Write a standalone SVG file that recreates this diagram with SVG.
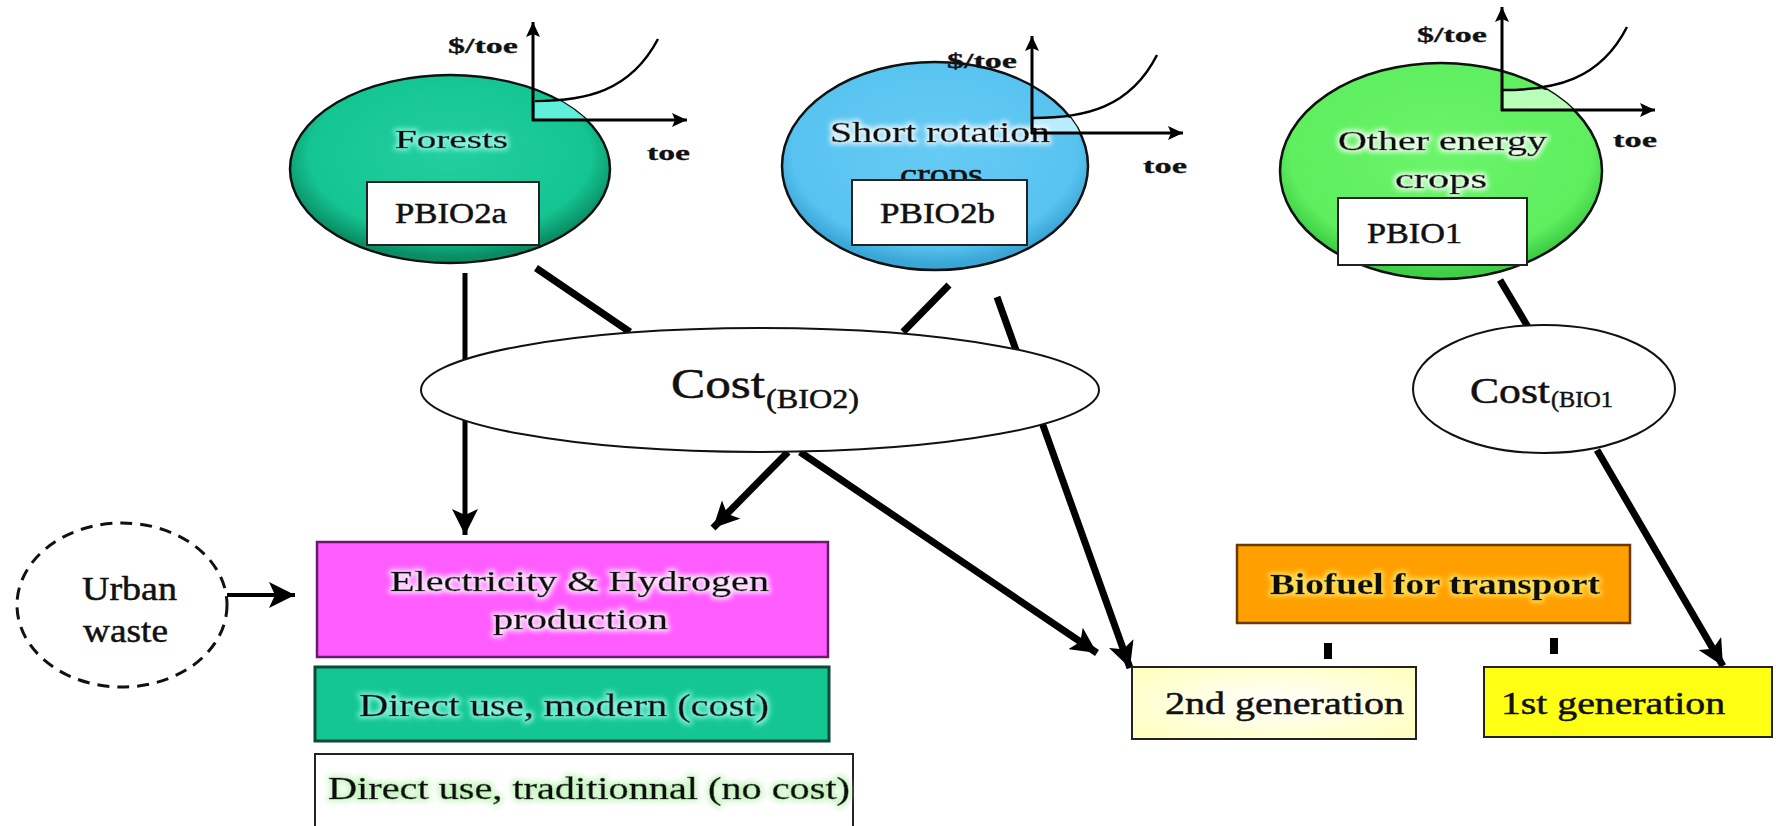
<svg xmlns="http://www.w3.org/2000/svg" width="1776" height="826" viewBox="0 0 1776 826">
<style>
.t{font-family:"Liberation Serif","Times New Roman",serif;fill:#111;stroke:#111;stroke-width:0.5;}
.b{font-weight:bold;stroke-width:0.3;}
.ax{stroke:#000;stroke-width:3;fill:none;}
.cv{stroke:#000;stroke-width:2.5;fill:none;}
.con{stroke:#000;stroke-width:7;fill:none;}
.box{stroke:#222;stroke-width:2;}
.el{stroke:#111;stroke-width:2.5;}
</style>
<defs>
<marker id="ah" markerUnits="userSpaceOnUse" markerWidth="28" markerHeight="26" refX="26" refY="13" orient="auto"><path d="M0,0 L26,13 L0,26 L6,13 z" fill="#000"/></marker>
<marker id="axh" markerUnits="userSpaceOnUse" markerWidth="16" markerHeight="14" refX="15" refY="7" orient="auto"><path d="M0,0 L15,7 L0,14 L3,7 z" fill="#000"/></marker>
<radialGradient id="gF" cx="50%" cy="42%" r="55%"><stop offset="0" stop-color="#22cf9e"/><stop offset="0.8" stop-color="#14c592"/><stop offset="1" stop-color="#0a8c64"/></radialGradient>
<radialGradient id="gS" cx="50%" cy="42%" r="55%"><stop offset="0" stop-color="#66cbf4"/><stop offset="0.85" stop-color="#58c3f0"/><stop offset="1" stop-color="#3aa6d6"/></radialGradient>
<radialGradient id="gO" cx="50%" cy="42%" r="55%"><stop offset="0" stop-color="#6af56a"/><stop offset="0.85" stop-color="#5eee5e"/><stop offset="1" stop-color="#3fcf45"/></radialGradient>
<radialGradient id="g2" cx="50%" cy="50%" r="60%"><stop offset="0" stop-color="#ffffff"/><stop offset="1" stop-color="#ffffc4"/></radialGradient>
<filter id="glowW" x="-10%" y="-40%" width="120%" height="180%"><feMorphology in="SourceAlpha" operator="dilate" radius="1.5" result="d"/><feGaussianBlur in="d" stdDeviation="2.5" result="bl"/><feFlood flood-color="#ffffff" flood-opacity="0.85"/><feComposite in2="bl" operator="in" result="g"/><feMerge><feMergeNode in="g"/><feMergeNode in="SourceGraphic"/></feMerge></filter>
<filter id="glowC" x="-10%" y="-40%" width="120%" height="180%"><feMorphology in="SourceAlpha" operator="dilate" radius="1.5" result="d"/><feGaussianBlur in="d" stdDeviation="2.5" result="bl"/><feFlood flood-color="#8ff8e6" flood-opacity="0.9"/><feComposite in2="bl" operator="in" result="g"/><feMerge><feMergeNode in="g"/><feMergeNode in="SourceGraphic"/></feMerge></filter>
<filter id="glowY" x="-10%" y="-40%" width="120%" height="180%"><feMorphology in="SourceAlpha" operator="dilate" radius="1.5" result="d"/><feGaussianBlur in="d" stdDeviation="2.5" result="bl"/><feFlood flood-color="#ffe860" flood-opacity="0.9"/><feComposite in2="bl" operator="in" result="g"/><feMerge><feMergeNode in="g"/><feMergeNode in="SourceGraphic"/></feMerge></filter>
<filter id="glowG" x="-10%" y="-40%" width="120%" height="180%"><feMorphology in="SourceAlpha" operator="dilate" radius="2" result="d"/><feGaussianBlur in="d" stdDeviation="3" result="bl"/><feFlood flood-color="#b8f0b0" flood-opacity="0.8"/><feComposite in2="bl" operator="in" result="g"/><feMerge><feMergeNode in="g"/><feMergeNode in="SourceGraphic"/></feMerge></filter>
<clipPath id="cF"><ellipse cx="450" cy="169" rx="160" ry="94"/></clipPath>
<clipPath id="cS"><ellipse cx="935" cy="166" rx="153" ry="104"/></clipPath>
<clipPath id="cO"><ellipse cx="1441" cy="171" rx="161" ry="108"/></clipPath>
</defs>
<rect width="1776" height="826" fill="#fff"/>

<g id="connectors">
<line class="con" style="stroke-width:5" x1="465" y1="273" x2="465" y2="535" marker-end="url(#ah)"/>
<line class="con" x1="536" y1="268" x2="630" y2="332"/>
<line class="con" x1="949" y1="285" x2="903" y2="332"/>
<line class="con" x1="997" y1="297" x2="1130" y2="668" marker-end="url(#ah)"/>
<line class="con" x1="788" y1="452" x2="713" y2="528" marker-end="url(#ah)"/>
<line class="con" x1="800" y1="452" x2="1097" y2="653" marker-end="url(#ah)"/>
<line class="con" x1="1500" y1="280" x2="1528" y2="327"/>
<line class="con" x1="1597" y1="450" x2="1723" y2="666" marker-end="url(#ah)"/>
<line class="con" style="stroke-width:4" x1="227" y1="595" x2="295" y2="595" marker-end="url(#ah)"/>
<rect x="1324" y="643" width="8" height="16" fill="#000"/>
<rect x="1550" y="638" width="8" height="16" fill="#000"/>
</g>

<g id="forests">
<ellipse class="el" cx="450" cy="169" rx="160" ry="94" fill="url(#gF)"/>
<rect x="535" y="99" width="70" height="21" fill="#5ff0dc" clip-path="url(#cF)"/>
<text class="t" x="395" y="148" font-size="26" textLength="113" lengthAdjust="spacingAndGlyphs" fill="#0b2b25" filter="url(#glowC)">Forests</text>
<rect class="box" x="367" y="182" width="172" height="63" fill="#fff"/>
<text class="t" x="395" y="223" font-size="30" textLength="112" lengthAdjust="spacingAndGlyphs">PBIO2a</text>
<line class="ax" x1="533" y1="121" x2="533" y2="22" marker-end="url(#axh)"/>
<line class="ax" x1="532" y1="120" x2="687" y2="120" marker-end="url(#axh)"/>
<path class="cv" d="M535,101 C585,101 630,92 658,39"/>
<text class="t b" x="448" y="53" font-size="21" textLength="70" lengthAdjust="spacingAndGlyphs">$/toe</text>
<text class="t b" x="647" y="160" font-size="21" textLength="43" lengthAdjust="spacingAndGlyphs">toe</text>
</g>

<g id="short-rotation">
<ellipse class="el" cx="935" cy="166" rx="153" ry="104" fill="url(#gS)"/>
<rect x="1034" y="118" width="60" height="15" fill="#b8ecff" clip-path="url(#cS)"/>
<text class="t" x="830" y="142" font-size="29" textLength="220" lengthAdjust="spacingAndGlyphs" filter="url(#glowW)">Short rotation</text>
<text class="t" x="900" y="184" font-size="29" textLength="83" lengthAdjust="spacingAndGlyphs">crops</text>
<rect class="box" x="852" y="180" width="175" height="65" fill="#fff"/>
<text class="t" x="880" y="223" font-size="30" textLength="115" lengthAdjust="spacingAndGlyphs">PBIO2b</text>
<line class="ax" x1="1032" y1="134" x2="1032" y2="36" marker-end="url(#axh)"/>
<line class="ax" x1="1031" y1="133" x2="1183" y2="133" marker-end="url(#axh)"/>
<path class="cv" d="M1033,118 C1085,118 1130,108 1157,55"/>
<text class="t b" x="947" y="68" font-size="21" textLength="70" lengthAdjust="spacingAndGlyphs">$/toe</text>
<text class="t b" x="1143" y="173" font-size="21" textLength="44" lengthAdjust="spacingAndGlyphs">toe</text>
</g>

<g id="other-energy">
<ellipse class="el" cx="1441" cy="171" rx="161" ry="108" fill="url(#gO)"/>
<rect x="1504" y="90" width="70" height="20" fill="#b8ffb8" clip-path="url(#cO)"/>
<text class="t" x="1338" y="150" font-size="28" textLength="209" lengthAdjust="spacingAndGlyphs" filter="url(#glowW)">Other energy</text>
<text class="t" x="1395" y="188" font-size="28" textLength="92" lengthAdjust="spacingAndGlyphs" filter="url(#glowW)">crops</text>
<rect class="box" x="1338" y="198" width="189" height="67" fill="#fff"/>
<text class="t" x="1367" y="243" font-size="30" textLength="95" lengthAdjust="spacingAndGlyphs">PBIO1</text>
<line class="ax" x1="1502" y1="111" x2="1502" y2="7" marker-end="url(#axh)"/>
<line class="ax" x1="1501" y1="110" x2="1655" y2="110" marker-end="url(#axh)"/>
<path class="cv" d="M1503,90 C1555,90 1600,80 1627,27"/>
<text class="t b" x="1417" y="42" font-size="21" textLength="70" lengthAdjust="spacingAndGlyphs">$/toe</text>
<text class="t b" x="1613" y="147" font-size="21" textLength="44" lengthAdjust="spacingAndGlyphs">toe</text>
</g>

<g id="cost-bio2">
<ellipse class="el" cx="760" cy="390" rx="339" ry="62" fill="#fff" style="stroke-width:2"/>
<text class="t"><tspan x="671" y="398" font-size="42" textLength="94" lengthAdjust="spacingAndGlyphs">Cost</tspan><tspan x="766" y="408" font-size="28" textLength="93" lengthAdjust="spacingAndGlyphs">(BIO2)</tspan></text>
</g>

<g id="cost-bio1">
<ellipse class="el" cx="1544" cy="389" rx="131" ry="64" fill="#fff" style="stroke-width:2"/>
<text class="t"><tspan x="1470" y="403" font-size="35" textLength="80" lengthAdjust="spacingAndGlyphs">Cost</tspan><tspan x="1551" y="407" font-size="24" textLength="62" lengthAdjust="spacingAndGlyphs">(BIO1</tspan></text>
</g>

<g id="urban-waste">
<ellipse cx="122" cy="605" rx="105" ry="82" fill="#fff" stroke="#111" stroke-width="3" stroke-dasharray="12 8"/>
<text class="t" x="82" y="600" font-size="34" textLength="95" lengthAdjust="spacingAndGlyphs" fill="#0d1a30">Urban</text>
<text class="t" x="83" y="642" font-size="34" textLength="85" lengthAdjust="spacingAndGlyphs" fill="#0d1a30">waste</text>
</g>

<g id="electricity-hydrogen">
<rect x="317" y="542" width="511" height="115" fill="#ff5cff" stroke="#6a1a6a" stroke-width="2.5"/>
<text class="t" x="390" y="591" font-size="30" textLength="379" lengthAdjust="spacingAndGlyphs" fill="#2a0a2a" filter="url(#glowW)">Electricity &amp; Hydrogen</text>
<text class="t" x="493" y="629" font-size="30" textLength="175" lengthAdjust="spacingAndGlyphs" fill="#2a0a2a" filter="url(#glowW)">production</text>
</g>

<g id="direct-modern">
<rect x="315" y="667" width="514" height="74" fill="#14c792" stroke="#0a4a36" stroke-width="3"/>
<text class="t" x="359" y="716" font-size="32" textLength="410" lengthAdjust="spacingAndGlyphs" fill="#06221a" filter="url(#glowC)">Direct use, modern (cost)</text>
</g>

<g id="direct-traditional">
<rect x="315" y="754" width="538" height="80" fill="#fff" stroke="#222" stroke-width="2"/>
<text class="t" x="328" y="799" font-size="31" textLength="522" lengthAdjust="spacingAndGlyphs" fill="#0a200a" filter="url(#glowG)">Direct use, traditionnal (no cost)</text>
</g>

<g id="biofuel">
<rect x="1237" y="545" width="393" height="78" fill="#ff9f00" stroke="#6a3a00" stroke-width="2.5"/>
<text class="t b" x="1270" y="594" font-size="30" textLength="330" lengthAdjust="spacingAndGlyphs" fill="#1a0f00" filter="url(#glowY)">Biofuel for transport</text>
</g>

<g id="second-generation">
<rect x="1132" y="667" width="284" height="72" fill="url(#g2)" stroke="#222" stroke-width="2"/>
<text class="t" x="1165" y="714" font-size="32" textLength="239" lengthAdjust="spacingAndGlyphs">2nd generation</text>
</g>

<g id="first-generation">
<rect x="1484" y="667" width="288" height="70" fill="#ffff14" stroke="#222" stroke-width="2"/>
<text class="t" x="1501" y="714" font-size="32" textLength="224" lengthAdjust="spacingAndGlyphs">1st generation</text>
</g>
</svg>
